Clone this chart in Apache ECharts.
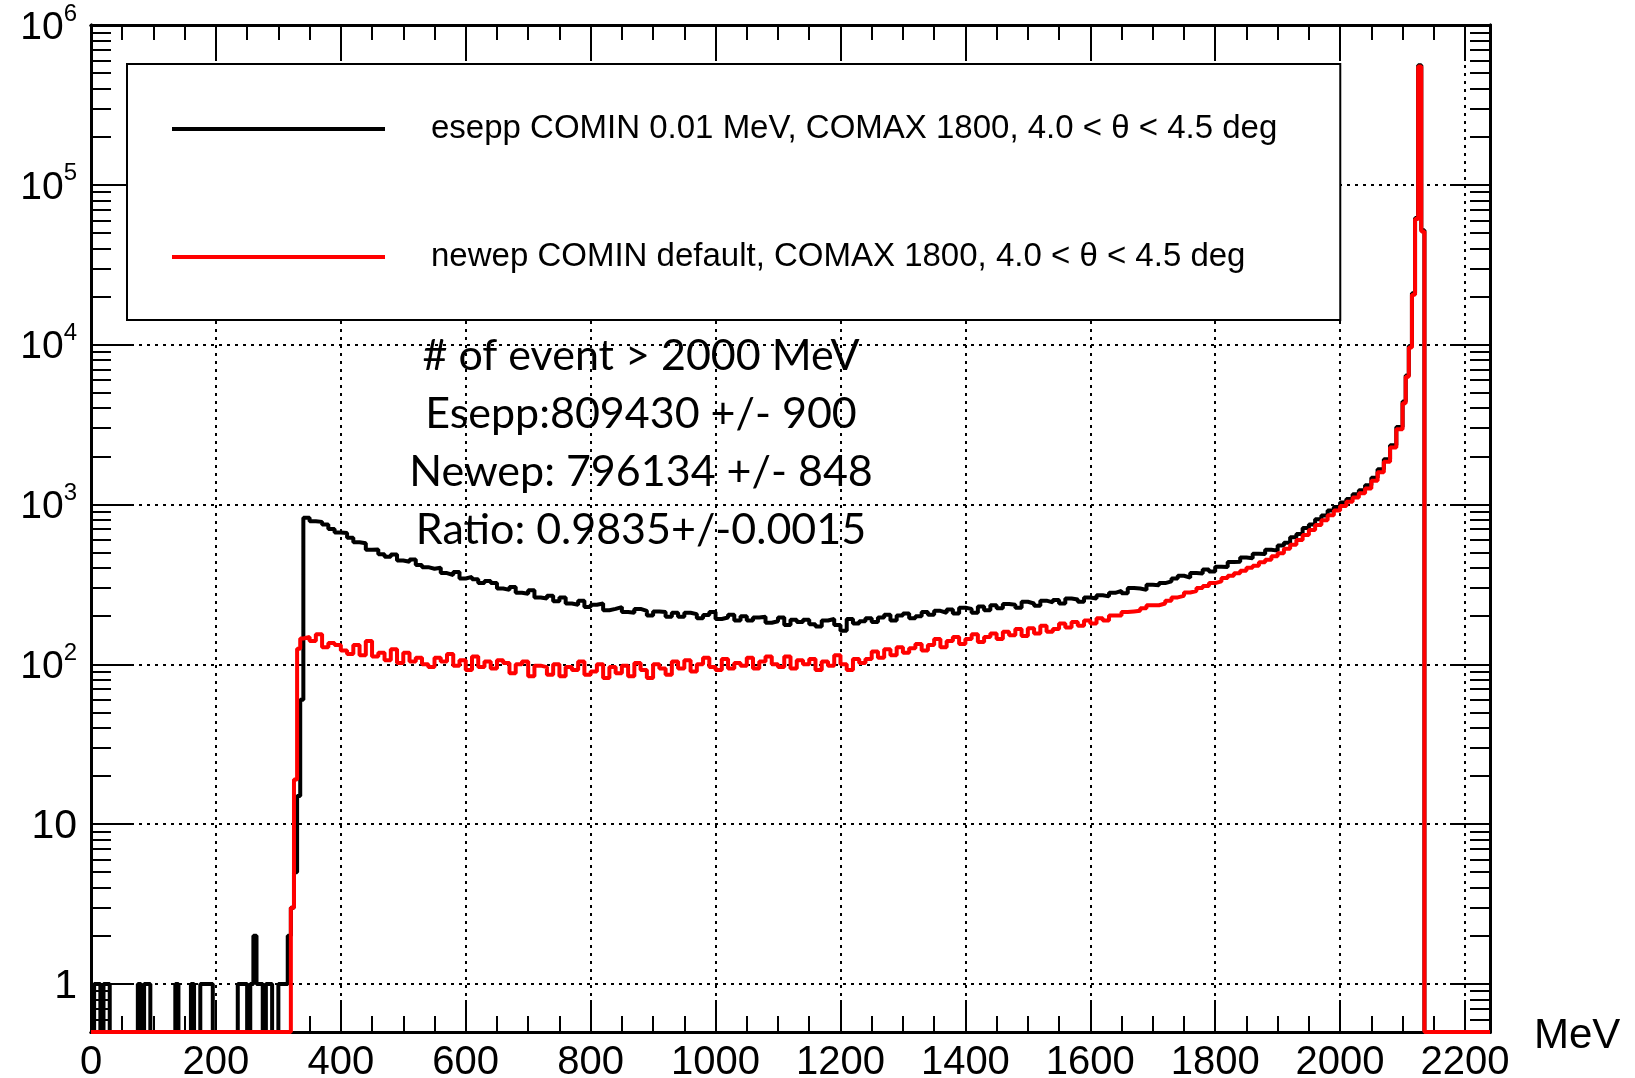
<!DOCTYPE html>
<html>
<head>
<meta charset="utf-8">
<script src="https://cdn.jsdelivr.net/npm/echarts@6/dist/echarts.min.js"></script>
<style>
html,body{margin:0;padding:0;background:#fff;}
#chart{width:1635px;height:1078px;}
</style>
</head>
<body>
<div id="chart"></div>
<script>
// ---------------- data ----------------
const X_MIN = 0, X_MAX = 2240;
const Y_MIN = 0.5, Y_MAX = 1e6;
const X_LABELS = [0, 200, 400, 600, 800, 1000, 1200, 1400, 1600, 1800, 2000, 2200];
const Y_LABELS = [1, 10, 100, 1000, 10000, 100000, 1000000];
const X_NAME = 'MeV';

const SERIES_NAMES = [
  'esepp COMIN 0.01 MeV, COMAX 1800, 4.0 < \u03b8 < 4.5 deg',
  'newep COMIN default, COMAX 1800, 4.0 < \u03b8 < 4.5 deg'
];
const STATS = [
  '# of event > 2000 MeV',
  'Esepp:809430 +/- 900',
  'Newep: 796134 +/- 848',
  'Ratio: 0.9835+/-0.0015'
];

// binning: low region 0-340 (5 MeV bins), main 340-2100 (10 MeV bins), peak 2100-2135 (5 MeV bins)
const LOW_START = 0, LOW_WIDTH = 5;
const MAIN_START = 340, MAIN_WIDTH = 10;
const PEAK_START = 2100, PEAK_WIDTH = 5;
const HIST_END = 2135;

const esepp_low = [
  0,1,1,0,1,1,0,0,0,0,
  0,0,0,0,0,1,0,1,1,0,
  0,0,0,0,0,0,0,1,0,0,
  0,0,1,0,0,1,1,1,1,0,
  0,0,0,0,0,0,0,1,1,1,
  0,1,2,1,1,0,1,1,0,0,
  1,1,1,2,3,5,15,60
];
const esepp_main = [
  825, 785, 778, 750, 702, 668, 662, 618, 580, 572,
  520, 522, 488, 470, 486, 446, 438, 452, 418, 405,
  396, 402, 372, 362, 378, 344, 352, 340, 322, 332,
  322, 298, 292, 304, 280, 276, 290, 262, 258, 268,
  248, 262, 240, 236, 250, 228, 236, 240, 218, 222,
  228, 212, 210, 222, 216, 202, 214, 212, 198, 210,
  198, 210, 206, 194, 203, 212, 192, 196, 204, 188,
  200, 188, 196, 198, 182, 186, 196, 176, 190, 184,
  190, 178, 172, 188, 192, 176, 162, 192, 180, 186,
  194, 184, 196, 204, 188, 202, 208, 194, 200, 212,
  204, 216, 210, 220, 208, 226, 222, 210, 230, 218,
  234, 224, 238, 236, 226, 246, 240, 232, 250, 244,
  252, 240, 258, 254, 246, 262, 258, 270, 266, 280,
  288, 278, 300, 298, 292, 314, 312, 322, 330, 344,
  358, 348, 372, 370, 392, 380, 408, 406, 436, 438,
  466, 460, 492, 490, 520, 514, 554, 576, 624, 654,
  712, 748, 808, 852, 915, 965, 1030, 1080, 1160, 1225,
  1320, 1470, 1660, 1920, 2350, 3050
];
const esepp_peak = [4400, 6400, 9800, 21000, 62000, 560000, 52000];

const newep_low = [
  0,0,0,0,0,0,0,0,0,0,
  0,0,0,0,0,0,0,0,0,0,
  0,0,0,0,0,0,0,0,0,0,
  0,0,0,0,0,0,0,0,0,0,
  0,0,0,0,0,0,0,0,0,0,
  0,0,0,0,0,0,0,0,0,0,
  0,0,0,0,3,19,125,145
];
const newep_main = [
  148, 140, 154, 128, 136, 132, 122, 116, 132, 114,
  140, 112, 118, 106, 124, 102, 118, 104, 110, 100,
  96, 110, 104, 116, 98, 106, 92, 112, 96, 104,
  94, 106, 102, 88, 100, 104, 84, 98, 96, 86,
  100, 84, 96, 92, 104, 86, 90, 100, 82, 96,
  88, 98, 84, 102, 92, 82, 100, 94, 86, 104,
  94, 106, 90, 100, 110, 96, 92, 108, 94, 102,
  98, 110, 94, 104, 112, 100, 96, 112, 94, 106,
  100, 108, 92, 104, 98, 114, 100, 92, 108, 102,
  108, 120, 110, 124, 114, 128, 118, 126, 134, 122,
  132, 144, 128, 140, 148, 134, 144, 154, 138, 148,
  156, 144, 160, 152, 166, 150, 168, 156, 174, 160,
  166, 180, 170, 184, 174, 188, 180, 194, 188, 202,
  202, 212, 214, 216, 224, 234, 234, 240, 250, 262,
  268, 281, 287, 300, 309, 322, 330, 347, 358, 371,
  385, 401, 414, 435, 450, 474, 495, 528, 560, 600,
  645, 692, 745, 796, 855, 915, 978, 1040, 1105, 1175,
  1260, 1405, 1590, 1850, 2270, 2950
];
const newep_peak = [4300, 6300, 9600, 20500, 61000, 550000, 51000];

// ---------------- helpers ----------------
function stepPoints(low, main, peak) {
  const pts = [];
  const floor = v => (v > 0 ? v : Y_MIN); // empty bins drawn on the axis floor, as ROOT does
  low.forEach((v, i) => pts.push([LOW_START + i * LOW_WIDTH, floor(v)]));
  main.forEach((v, i) => pts.push([MAIN_START + i * MAIN_WIDTH, floor(v)]));
  peak.forEach((v, i) => pts.push([PEAK_START + i * PEAK_WIDTH, floor(v)]));
  pts.push([HIST_END, Y_MIN]);
  pts.push([X_MAX, Y_MIN]);
  return pts;
}

const X_MINOR = [];
for (let i = 0; i < X_LABELS.length; i++) {
  for (let k = 1; k < 4; k++) {
    const v = X_LABELS[i] + k * 50;
    if (v < X_MAX) X_MINOR.push(v);
  }
}
const Y_MINOR = [];
for (let e = -1; e < 6; e++) {
  for (let m = 2; m <= 9; m++) {
    const v = m * Math.pow(10, e);
    if (v > Y_MIN && v < Y_MAX) Y_MINOR.push(v);
  }
}

const FONT = 'Liberation Sans';
const BLACK = '#000';
const GRID_LINE = { show: true, lineStyle: { color: BLACK, width: 2, type: [3, 5] } };

function xAxis(position, ticks, len, withLabels) {
  const ax = {
    type: 'value', min: X_MIN, max: X_MAX, position: position,
    axisLine: { show: true, onZero: false, lineStyle: { color: BLACK, width: 3 } },
    axisTick: { show: true, inside: true, length: len, customValues: ticks, lineStyle: { color: BLACK, width: 2 } },
    axisLabel: { show: false },
    splitLine: { show: false },
    minorTick: { show: false }
  };
  if (withLabels) {
    ax.axisLabel = {
      show: true, customValues: X_LABELS, color: BLACK, fontFamily: FONT, fontSize: 40, margin: 11,
      formatter: v => String(Math.round(v))
    };
    ax.splitLine = GRID_LINE;
    ax.name = X_NAME;
    ax.nameLocation = 'end';
    ax.nameGap = 44;
    ax.nameTextStyle = { color: BLACK, fontFamily: FONT, fontSize: 42, verticalAlign: 'top', lineHeight: 8 };
  }
  return ax;
}
function yAxis(position, ticks, len, withLabels) {
  const ax = {
    type: 'log', logBase: 10, min: Y_MIN, max: Y_MAX, position: position,
    axisLine: { show: true, onZero: false, lineStyle: { color: BLACK, width: 3 } },
    axisTick: { show: true, inside: true, length: len, customValues: ticks, lineStyle: { color: BLACK, width: 2 } },
    axisLabel: { show: false },
    splitLine: { show: false },
    minorTick: { show: false }
  };
  if (withLabels) {
    ax.axisLabel = {
      show: true, customValues: Y_LABELS, margin: 14,
      formatter: function (v) {
        const e = Math.round(Math.log10(v));
        if (e === 0) return '{a|1}';
        if (e === 1) return '{a|10}';
        return '{b|10}{s|' + e + '}';
      },
      rich: {
        a: { fontFamily: FONT, fontSize: 41, lineHeight: 46, padding: [6, 0, 0, 0], color: BLACK },
        b: { fontFamily: FONT, fontSize: 39, lineHeight: 46, padding: [6, 0, 0, 0], color: BLACK },
        s: { fontFamily: FONT, fontSize: 24, lineHeight: 20, verticalAlign: 'top', color: BLACK }
      }
    };
    ax.splitLine = GRID_LINE;
  }
  return ax;
}

const chart = echarts.init(document.getElementById('chart'), null, { renderer: 'canvas' });
chart.setOption({
  animation: false,
  backgroundColor: '#fff',
  grid: { left: 91, right: 145, top: 25, bottom: 46, containLabel: false, outerBoundsMode: 'none' },
  xAxis: [
    xAxis('bottom', X_LABELS, 32, true),
    xAxis('bottom', X_MINOR, 16, false),
    xAxis('top', X_LABELS, 36, false),
    xAxis('top', X_MINOR, 15, false)
  ],
  yAxis: [
    yAxis('left', Y_LABELS, 40, true),
    yAxis('left', Y_MINOR, 20, false),
    yAxis('right', Y_LABELS, 40, false),
    yAxis('right', Y_MINOR, 20, false)
  ],
  legend: {
    orient: 'vertical', left: 127, top: 64,
    selectedMode: false,
    backgroundColor: '#fff', borderColor: BLACK, borderWidth: 2, borderRadius: 0,
    padding: [45, 63, 43, 45],
    itemWidth: 213, itemHeight: 4, itemGap: 88,
    textStyle: { fontFamily: FONT, fontSize: 33, color: BLACK, width: 844, lineHeight: 40, padding: [0, 0, 0, 41] },
    data: [
      { name: SERIES_NAMES[0], icon: 'rect' },
      { name: SERIES_NAMES[1], icon: 'rect' }
    ]
  },
  graphic: [{
    type: 'text', x: 641, y: 327, z: 10,
    style: {
      text: STATS.join('\n'), fontFamily: 'Lato', fontSize: 43, lineHeight: 58,
      fill: BLACK, align: 'center', verticalAlign: 'top'
    }
  }],
  series: [
    {
      name: SERIES_NAMES[0], type: 'line', step: 'end', xAxisIndex: 0, yAxisIndex: 0,
      data: stepPoints(esepp_low, esepp_main, esepp_peak),
      symbol: 'none', showSymbol: false, clip: false, z: 3,
      color: BLACK, lineStyle: { color: BLACK, width: 4 }
    },
    {
      name: SERIES_NAMES[1], type: 'line', step: 'end', xAxisIndex: 0, yAxisIndex: 0,
      data: stepPoints(newep_low, newep_main, newep_peak),
      symbol: 'none', showSymbol: false, clip: false, z: 4,
      color: '#ff0000', lineStyle: { color: '#ff0000', width: 4 }
    }
  ]
});
</script>
</body>
</html>
